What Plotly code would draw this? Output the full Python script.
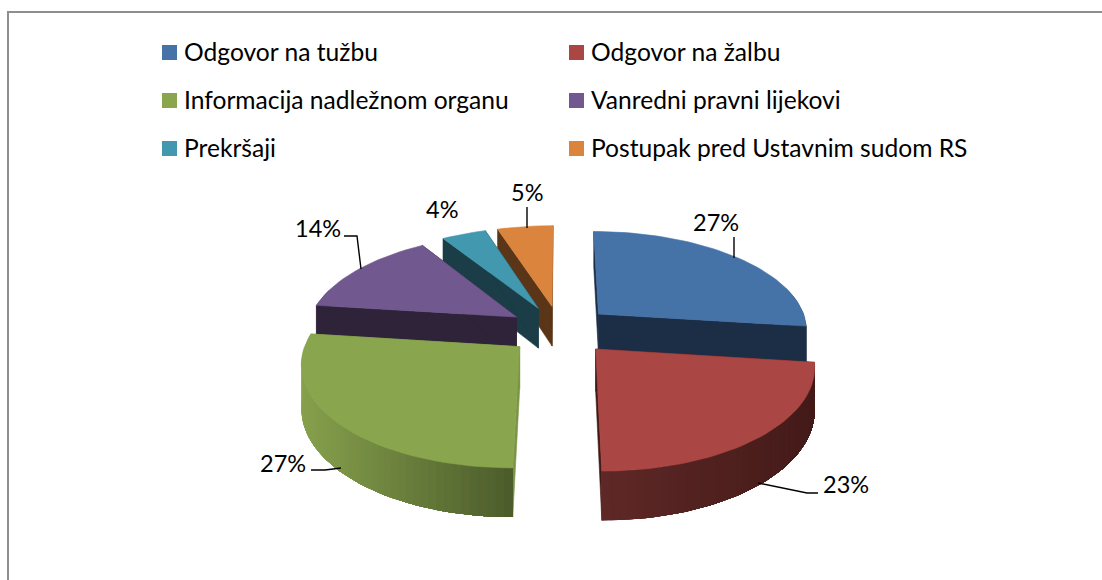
import numpy as np
import plotly.graph_objects as go

categories = ["Odgovor na tužbu", "Odgovor na žalbu", "Informacija nadležnom organu",
              "Vanredni pravni lijekovi", "Prekršaji", "Postupak pred Ustavnim sudom RS"]
values = [27, 23, 27, 14, 4, 5]
top_colors = ["#4572a7", "#aa4643", "#89a54e", "#71588f", "#4198af", "#db843d"]
wall_colors = ["#1c2e45", "#431a18", "#7a9446", "#2e2338", "#1a3d47", "#5a3518"]
outer_left = {1: "#5e2826", 2: "#86a04c"}
outer_right = {1: "#431a18", 2: "#4a5a2a"}
border_color = "#8e8e8e"
FONT = "Lato"

# projection settings for the tilted, exploded pie (pixel-like axes)
CX, CY, BX, AY, K, H, PULL = 560, 330, 210, 98.6, 0.143, 41, 0.25


def project(x, y, z=0.0):
    s = 1 / (1 + K * y)
    return CX + BX * x * s, CY - AY * y * s + H * z * s


def hex_mix(a, b, t):
    ca = [int(a[i:i + 2], 16) for i in (1, 3, 5)]
    cb = [int(b[i:i + 2], 16) for i in (1, 3, 5)]
    return "#" + "".join(f"{round(p + (q - p) * t):02x}" for p, q in zip(ca, cb))


fig = go.Figure()


def poly(xs, ys, color, name, edge=0.6):
    fig.add_trace(go.Scatter(
        x=list(xs) + [xs[0]], y=list(ys) + [ys[0]], mode="lines", fill="toself", fillcolor=color,
        line=dict(color=color, width=edge), hoverinfo="text", text=name, showlegend=False))


def wall(idx, rx, ry, color, name):
    top_pts = [project(rx[k], ry[k]) for k in idx]
    low_pts = [project(rx[k], ry[k], 1) for k in idx]
    pts = top_pts + low_pts[::-1]
    poly([q[0] for q in pts], [q[1] for q in pts], color, name, edge=0)


total = sum(values)
edges = np.cumsum([0] + values) / total * 2 * np.pi
order = sorted(range(len(values)), key=lambda i: -np.cos((edges[i] + edges[i + 1]) / 2))

for i in order:
    a0, a1 = edges[i], edges[i + 1]
    mid = (a0 + a1) / 2
    ox, oy = PULL * np.sin(mid), PULL * np.cos(mid)
    th = np.linspace(a0, a1, max(8, int((a1 - a0) * 30)))
    rx, ry = ox + np.sin(th), oy + np.cos(th)
    name = categories[i]

    # radial walls
    for a in (a0, a1):
        ex, ey = ox + np.sin(a), oy + np.cos(a)
        p = [project(ox, oy), project(ex, ey), project(ex, ey, 1), project(ox, oy, 1)]
        poly([q[0] for q in p], [q[1] for q in p], wall_colors[i], name)

    # outer wall: a base, then bands from each x to the right-hand end, painted left to right
    xs_all = np.array([project(a, b)[0] for a, b in zip(rx, ry)])
    visible = [j for j in range(len(th)) if np.cos(th[j]) <= 0.3]
    if len(visible) > 1:
        base = outer_left[i] if i in outer_left else wall_colors[i]
        wall(visible, rx, ry, base, name)
        if i in outer_left:
            vx = xs_all[visible]
            imax, imin = visible[int(np.argmax(vx))], visible[int(np.argmin(vx))]
            xmin, xmax = xs_all[imin], xs_all[imax]
            step = 1 if imax > imin else -1
            for j in range(imin, imax, step):
                t = (xs_all[j] - xmin) / max(xmax - xmin, 1)
                wall(list(range(j, imax + step, step)), rx, ry,
                     hex_mix(outer_left[i], outer_right[i], t), name)

    # top face
    top = [project(ox, oy)] + [project(a, b) for a, b in zip(rx, ry)]
    poly([q[0] for q in top], [q[1] for q in top], top_colors[i], f"{name}: {values[i]}%")

shapes = [
    dict(type="path", path="M 8 580 L 8 12 L 1102 12", line=dict(color=border_color, width=2), layer="below"),
]
leaders = [
    "M 734 237 L 734 258",
    "M 758 483 L 807 493 L 818 493",
    "M 311 470 L 325 470 L 341 468",
    "M 344 236 L 357 236 L 361 269",
    "M 527 207 L 527 228",
]
for path in leaders:
    shapes.append(dict(type="path", path=path, line=dict(color="#000000", width=1.4)))

annotations = []
leg_x = [162, 569]
leg_y = [52.5, 100.5, 148.5]
for i, c in enumerate(categories):
    lx, ly = leg_x[i % 2], leg_y[i // 2]
    shapes.append(dict(type="rect", x0=lx, x1=lx + 15, y0=ly - 7.5, y1=ly + 7.5,
                       fillcolor=top_colors[i], line=dict(width=0)))
    annotations.append(dict(x=lx + 20, y=ly - 1, text=c, showarrow=False, xanchor="left", yanchor="middle",
                            font=dict(family=FONT, size=24.6, color="#000000")))

label_pos = [(716, 222), (846, 484), (283, 463), (318, 228), (442, 209), (527, 192)]
for v, (x, y) in zip(values, label_pos):
    annotations.append(dict(x=x, y=y, text=f"{v}%", showarrow=False, xanchor="center", yanchor="middle",
                            font=dict(family=FONT, size=23.5, color="#000000")))

fig.update_layout(
    width=1102, height=580, autosize=False, margin=dict(l=0, r=0, t=0, b=0),
    paper_bgcolor="#ffffff", plot_bgcolor="#ffffff", showlegend=False,
    xaxis=dict(range=[0, 1102], visible=False, fixedrange=True),
    yaxis=dict(range=[580, 0], visible=False, fixedrange=True),
    shapes=shapes, annotations=annotations,
)
fig.write_html("out.html", config={"displayModeBar": False},
               post_script="document.body.style.margin='0';document.body.style.overflow='hidden';")
